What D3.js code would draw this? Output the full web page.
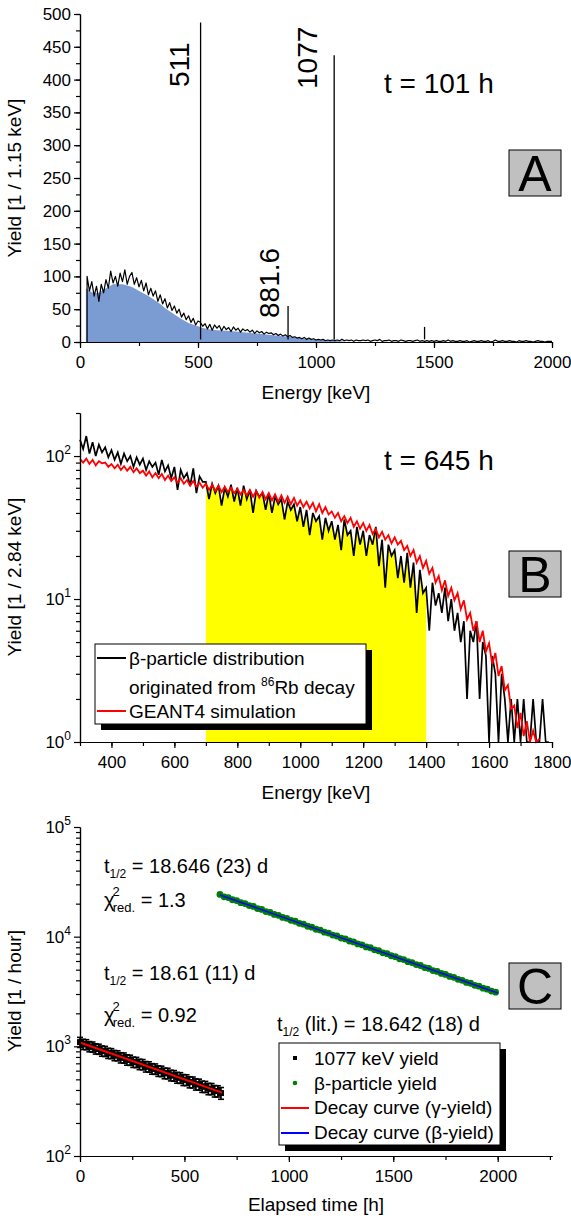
<!DOCTYPE html>
<html>
<head>
<meta charset="utf-8">
<script src="https://cdnjs.cloudflare.com/ajax/libs/d3/7.8.5/d3.min.js"></script>
<style>
  body { margin: 0; background: #fff; }
  svg { font-family: "Liberation Sans", Arial, sans-serif; }
  .axis path, .axis line { stroke: #000; stroke-width: 1.2; }
  .axis text { font-family: "Liberation Sans", Arial, sans-serif; font-size: 17px; fill: #000; }
</style>
</head>
<body>
<div class="chart"></div>
<script>
'use strict';

// ---------- panel A: gamma spectrum at t = 101 h (bins of 10 keV from 30 keV)
const specAStart = 30, specAStep = 10;
const specA = [
  100, 78, 92, 70, 85, 62, 88, 75,
  95, 82, 108, 90, 100, 85, 105, 92, 110, 88,
  100, 106, 88, 98, 84, 94, 78, 90, 72, 82,
  70, 78, 62, 72, 58, 66, 52, 60, 48, 55,
  44, 50, 38, 44, 34, 40, 30, 36, 26, 32,
  30, 24, 28, 20, 27, 18, 26, 21, 25, 17,
  24, 19, 22, 16, 23, 18, 21, 15, 20, 17,
  19, 15, 18, 13, 17, 14, 16, 12, 15, 13,
  14, 11, 13, 10, 12, 9, 11, 8, 10, 7,
  8, 6, 7, 5, 7, 4, 6, 4, 5, 3,
  4, 3, 4, 2, 3, 2, 3, 2, 3, 2,
  4, 2, 3, 2, 3, 1, 3, 2, 2, 3,
  2, 3, 1, 2, 3, 2, 4, 1, 2, 2,
  3, 1, 2, 2, 1, 3, 2, 1, 2, 2,
  1, 2, 3, 1, 2, 1, 2, 1, 2, 1,
  2, 1, 1, 2, 1, 3, 1, 2, 1, 1,
  2, 1, 1, 2, 0, 1, 2, 1, 1, 2,
  1, 1, 2, 0, 1, 3, 1, 1, 2, 1,
  1, 2, 1, 1, 0, 2, 1, 1, 2, 1,
  1, 0, 1, 2, 1, 1, 0, 1, 1, 1
];
const peaksAE = [511, 881.6, 1077, 1460];
const peaksAY = [487, 55, 437, 23];
const peakLabels = ["511", "881.6", "1077"];
const fillAE = [25, 40, 60, 80, 100, 120, 140, 160, 180, 200, 220, 240, 260, 280, 300,
  320, 340, 360, 380, 400, 430, 460, 490, 510.5, 511, 511.5, 540, 580, 620, 660, 700,
  750, 800, 850, 900, 950, 1000, 1040, 1076.5, 1077, 1077.5, 1100, 1130];
const fillAY = [82, 78, 74, 75, 80, 84, 88, 88, 88, 86, 84, 80, 76, 72, 68,
  63, 58, 52, 47, 42, 35, 29, 25, 23, 340, 22, 20, 18, 17, 16, 14.5,
  13, 11, 9, 7.5, 5.5, 3.5, 2.5, 1.5, 312, 1.5, 1, 0];

// ---------- panel B: beta spectrum at t = 645 h (bins of 10 keV from 300 keV)
const specBStart = 300, specBStep = 10;
const betaMeas = [
  130, 112, 138, 104, 125, 100, 120, 106, 115, 98,
  110, 94, 106, 88, 104, 92, 100, 84, 98, 87,
  96, 80, 92, 84, 90, 74, 94, 78, 86, 70,
  84, 58, 80, 70, 76, 62, 82, 55, 72, 66,
  66, 50, 64, 55, 62, 45, 60, 52, 63, 48,
  60, 45, 62, 50, 58, 40, 57, 52, 55, 42,
  55, 40, 52, 46, 50, 36, 48, 42, 46, 35,
  44, 32, 42, 28, 40, 35, 38, 26, 37, 30,
  35, 26, 33, 22, 36, 28, 30, 20, 32, 24,
  30, 20, 28, 24, 32, 17, 26, 12, 24, 20,
  22, 14, 20, 13, 21, 12, 18, 8, 16, 11,
  12, 6, 13, 9, 11, 8, 12, 7, 10, 6,
  8, 5, 7, 2, 6, 5, 7, 2, 5, 4,
  0.5, 4, 3, 0.5, 3, 2, 1, 2, 0.5, 2,
  1, 2, 0.5, 1, 2, 0.5, 1, 2, 1, 0.5
];
const betaSim = [
  95, 90, 96, 88, 94, 86, 92, 89, 90, 84,
  88, 82, 87, 80, 85, 79, 84, 77, 82, 76,
  79, 73, 78, 71, 76, 70, 75, 68, 73, 67,
  71, 65, 70, 64, 68, 62, 67, 61, 65, 60,
  64, 58, 63, 57, 62, 56, 61, 56, 60, 55,
  59, 54, 58, 53, 58, 52, 57, 51, 56, 50,
  55, 49, 54, 48, 53, 47, 52, 46, 51, 45,
  49, 44, 48, 43, 47, 41, 46, 40, 44, 39,
  41, 37, 40, 35, 38, 34, 37, 32, 35, 31,
  34, 30, 33, 28.5, 31, 27, 29.5, 26, 28, 24.5,
  27, 24, 25.5, 22, 23.5, 20, 22, 18, 20, 16.5,
  18.5, 15, 16.5, 13, 14.5, 11.5, 13.5, 10.5, 12, 9.8,
  11, 8.5, 9.8, 7.2, 8, 6, 7, 5, 6, 4.3,
  4.9, 3.5, 4.2, 2.9, 3.4, 2.3, 2.5, 1.7, 1.8, 1.25,
  1.6, 1.1, 1.4, 1.0, 1.2, 0.95, 1.05
];
const windowB = [700, 1400];

// ---------- panel C: yields vs elapsed time
const gammaStart = 0, gammaStep = 15;
const gammaYield = [1092, 1048, 1040, 998, 990, 952, 946, 910, 903, 868, 862, 829, 824, 790,
  786, 755, 750, 720, 716, 688, 684, 655, 652, 626, 623, 598, 594, 570, 568, 545, 541, 520,
  517, 496, 494, 473, 471, 452, 450, 431, 429, 411, 410, 392, 391, 375];
const gammaErr = [115, 112, 110, 107, 105, 102, 100, 98, 96, 93, 91, 89, 87, 85, 84, 82, 80,
  78, 77, 75, 74, 72, 71, 69, 68, 66, 65, 64, 63, 61, 60, 59, 58, 57, 56, 55, 54, 53, 52,
  51, 50, 49, 48, 47, 46, 46];
const betaStart = 670, betaStep = 20;
const betaYield = [24300, 23100, 22700, 21700, 21350, 20400, 20050, 19200, 18850, 18050,
  17700, 16950, 16650, 15950, 15650, 14980, 14700, 14080, 13820, 13230, 13000, 12440,
  12210, 11690, 11480, 10990, 10790, 10330, 10140, 9710, 9530, 9130, 8960, 8580, 8420,
  8060, 7920, 7580, 7440, 7120, 6990, 6700, 6570, 6290, 6180, 5910, 5810, 5560, 5460,
  5230, 5130, 4910, 4820, 4620, 4530, 4340, 4260, 4080, 4000, 3830, 3760, 3600, 3540,
  3390, 3320, 3190, 3120];
const fitGammaT = [0, 680], fitGammaY = [1085, 378];
const fitBetaT = [670, 2000], fitBetaY = [24000, 3060];

// ---------- canvas
const W = 571, H = 1219;
const svg = d3.select(".chart").append("svg").attr("width", W).attr("height", H);

const xA = d3.scaleLinear().domain([0, 2000]).range([80, 552]);
const yA = d3.scaleLinear().domain([0, 500]).range([342, 14]);
const xB = d3.scaleLinear().domain([300, 1800]).range([80, 552]);
const yB = d3.scaleLog().domain([1, 200]).range([742, 413]).clamp(true);
const xC = d3.scaleLinear().domain([0, 2260]).range([80, 552]);
const yC = d3.scaleLog().domain([100, 1e5]).range([1156, 827]);

function axis(fn, scale, pos, vertical, values, size, fmt) {
  return svg.append("g").attr("class", "axis")
    .attr("transform", vertical ? `translate(${pos},0)` : `translate(0,${pos})`)
    .call(fn(scale).tickValues(values).tickSize(size).tickSizeOuter(0)
      .tickPadding(vertical ? 3 : 8).tickFormat(fmt || ""));
}

function logLabels(scale, x, exps) {
  exps.forEach(e => {
    const t = svg.append("text").attr("x", x).attr("y", scale(Math.pow(10, e)) + 6)
      .attr("text-anchor", "end").attr("font-size", 17);
    t.append("tspan").text("10");
    t.append("tspan").attr("font-size", 12).attr("dy", -8).text(e);
  });
}

const logMinor = (lo, hi) => {
  const v = [];
  for (let d = lo; d < hi; d *= 10) for (let k = 2; k <= 9; k++) if (d * k <= hi) v.push(d * k);
  return v;
};

function letterBox(x, y, letter) {
  svg.append("rect").attr("x", x).attr("y", y).attr("width", 52).attr("height", 46)
    .attr("fill", "#c0c0c0").attr("stroke", "#000").attr("stroke-width", 1);
  svg.append("text").attr("x", x + 26).attr("y", y + 41).attr("text-anchor", "middle")
    .attr("font-size", 50).text(letter);
}

function yTitle(cy, label) {
  svg.append("text").attr("transform", `translate(21,${cy}) rotate(-90)`)
    .attr("text-anchor", "middle").attr("font-size", 19).text(label);
}
function xTitle(y, label) {
  svg.append("text").attr("x", 316).attr("y", y).attr("text-anchor", "middle")
    .attr("font-size", 19).text(label);
}

// ================= A
const contA = specA.map((v, i) => [specAStart + i * specAStep, v]);
svg.append("path")
  .datum(fillAE.map((e, i) => [e, fillAY[i]]))
  .attr("fill", "#7b9bd3")
  .attr("d", d3.area().x(d => xA(d[0])).y0(yA(0)).y1(d => yA(d[1])));
svg.append("path")
  .datum([[specAStart, 0]].concat(contA))
  .attr("fill", "none").attr("stroke", "#000").attr("stroke-width", 1.2)
  .attr("stroke-linejoin", "round")
  .attr("d", d3.line().x(d => xA(d[0])).y(d => yA(d[1])));
svg.selectAll(".peakA").data(peaksAE).enter().append("line")
  .attr("x1", d => xA(d)).attr("x2", d => xA(d))
  .attr("y1", yA(4)).attr("y2", (d, i) => yA(peaksAY[i]))
  .attr("stroke", "#000").attr("stroke-width", 1.3);

axis(d3.axisLeft, yA, 80, true, d3.range(0, 501, 25), 4);
axis(d3.axisLeft, yA, 80, true, d3.range(0, 501, 50), 6, d3.format("d"));
axis(d3.axisBottom, xA, 342, false, d3.range(0, 2001, 250), 4);
axis(d3.axisBottom, xA, 342, false, d3.range(0, 2001, 500), 6, d3.format("d"));
yTitle(178, "Yield [1 / 1.15 keV]");
xTitle(399, "Energy [keV]");

// peak labels, rotated
const labPos = [[189, 87], [279, 318], [317, 89]];
peakLabels.forEach((l, i) => {
  svg.append("text").attr("transform", `translate(${labPos[i][0]},${labPos[i][1]}) rotate(-90)`)
    .attr("font-size", 28).text(l);
});
svg.append("text").attr("x", 384).attr("y", 93).attr("font-size", 28).text("t = 101 h");
letterBox(509, 150, "A");

// ================= B
const measB = betaMeas.map((v, i) => [specBStart + i * specBStep, v]);
const simB = betaSim.map((v, i) => [specBStart + i * specBStep, v]);
const win = measB.filter(d => d[0] >= windowB[0] && d[0] <= windowB[1]);
svg.append("path")
  .datum(win)
  .attr("fill", "#ffff00")
  .attr("d", d3.area().x(d => xB(d[0])).y0(yB(1)).y1(d => yB(d[1])));
svg.append("path").datum(measB)
  .attr("fill", "none").attr("stroke", "#000").attr("stroke-width", 1.7)
  .attr("d", d3.line().x(d => xB(d[0])).y(d => yB(d[1])));
svg.append("path").datum(simB)
  .attr("fill", "none").attr("stroke", "#ff0000").attr("stroke-width", 1.8)
  .attr("d", d3.line().x(d => xB(d[0])).y(d => yB(d[1])));

axis(d3.axisLeft, yB, 80, true, logMinor(1, 200), 4);
axis(d3.axisLeft, yB, 80, true, [1, 10, 100], 6);
logLabels(yB, 71, [0, 1, 2]);
axis(d3.axisBottom, xB, 742, false, d3.range(300, 1801, 100), 4);
axis(d3.axisBottom, xB, 742, false, d3.range(400, 1801, 200), 6, d3.format("d"));
yTitle(577, "Yield [1 / 2.84 keV]");
xTitle(799, "Energy [keV]");
svg.append("text").attr("x", 384).attr("y", 470).attr("font-size", 28).text("t = 645 h");
letterBox(509, 551, "B");

// legend B
svg.append("rect").attr("x", 101).attr("y", 650).attr("width", 271).attr("height", 80).attr("fill", "#000");
svg.append("rect").attr("x", 95).attr("y", 644).attr("width", 271).attr("height", 80)
  .attr("fill", "#fff").attr("stroke", "#000").attr("stroke-width", 1);
svg.append("line").attr("x1", 97).attr("x2", 126).attr("y1", 658).attr("y2", 658)
  .attr("stroke", "#000").attr("stroke-width", 2);
svg.append("line").attr("x1", 97).attr("x2", 126).attr("y1", 711).attr("y2", 711)
  .attr("stroke", "#ff0000").attr("stroke-width", 2);
svg.append("text").attr("x", 129).attr("y", 665).attr("font-size", 19).text("β-particle distribution");
const rb = svg.append("text").attr("x", 129).attr("y", 694).attr("font-size", 19);
rb.append("tspan").text("originated from ");
rb.append("tspan").attr("font-size", 12).attr("dy", -8).text("86");
rb.append("tspan").attr("dy", 8).text("Rb decay");
svg.append("text").attr("x", 129).attr("y", 718).attr("font-size", 19).text("GEANT4 simulation");

// ================= C
const gam = gammaYield.map((v, i) => ({t: gammaStart + i * gammaStep, y: v, e: gammaErr[i]}));
const bet = betaYield.map((v, i) => [betaStart + i * betaStep, v]);

const eb = svg.append("g").attr("stroke", "#000").attr("stroke-width", 1.6);
eb.selectAll("line.v").data(gam).enter().append("line")
  .attr("x1", d => xC(d.t)).attr("x2", d => xC(d.t))
  .attr("y1", d => yC(d.y - d.e)).attr("y2", d => yC(d.y + d.e));
eb.selectAll("line.lo").data(gam).enter().append("line")
  .attr("x1", d => xC(d.t) - 3).attr("x2", d => xC(d.t) + 3)
  .attr("y1", d => yC(d.y - d.e)).attr("y2", d => yC(d.y - d.e));
eb.selectAll("line.hi").data(gam).enter().append("line")
  .attr("x1", d => xC(d.t) - 3).attr("x2", d => xC(d.t) + 3)
  .attr("y1", d => yC(d.y + d.e)).attr("y2", d => yC(d.y + d.e));
svg.selectAll(".sq").data(gam).enter().append("rect")
  .attr("x", d => xC(d.t) - 3).attr("y", d => yC(d.y) - 3)
  .attr("width", 6).attr("height", 6).attr("fill", "#000");

svg.selectAll(".dot").data(bet).enter().append("circle")
  .attr("cx", d => xC(d[0])).attr("cy", d => yC(d[1])).attr("r", 3.4)
  .attr("fill", "#008000");

const fitLine = d3.line().x(d => xC(d[0])).y(d => yC(d[1]));
svg.append("path").datum(fitGammaT.map((t, i) => [t, fitGammaY[i]]))
  .attr("fill", "none").attr("stroke", "#ff0000").attr("stroke-width", 2).attr("d", fitLine);
svg.append("path").datum(fitBetaT.map((t, i) => [t, fitBetaY[i]]))
  .attr("fill", "none").attr("stroke", "#0000ff").attr("stroke-width", 1.6).attr("d", fitLine);

axis(d3.axisLeft, yC, 80, true, logMinor(100, 1e5), 4);
axis(d3.axisLeft, yC, 80, true, [1e2, 1e3, 1e4, 1e5], 6);
logLabels(yC, 71, [2, 3, 4, 5]);
axis(d3.axisBottom, xC, 1156, false, d3.range(0, 2251, 250), 4);
axis(d3.axisBottom, xC, 1156, false, d3.range(0, 2001, 500), 6, d3.format("d"));
yTitle(991, "Yield [1 / hour]");
xTitle(1211, "Elapsed time [h]");
letterBox(509, 963, "C");

function halfLife(x, y, mid, rest) {
  const t = svg.append("text").attr("x", x).attr("y", y).attr("font-size", 20);
  t.append("tspan").text("t");
  t.append("tspan").attr("font-size", 12).attr("dy", 5).text("1/2");
  t.append("tspan").attr("dy", -5).text(mid + rest);
}
function chi(x, y, val) {
  const t = svg.append("text").attr("x", x).attr("y", y).attr("font-size", 20);
  t.append("tspan").text("χ");
  t.append("tspan").attr("font-size", 13).attr("dx", -2).attr("dy", -11).text("2");
  t.append("tspan").attr("font-size", 13).attr("dx", -7).attr("dy", 16).text("red.");
  t.append("tspan").attr("dy", -5).text(" = " + val);
}
halfLife(104, 873, "", " = 18.646 (23) d");
chi(104, 907, "1.3");
halfLife(104, 980, "", " = 18.61 (11) d");
chi(104, 1022, "0.92");
halfLife(277, 1031, " (lit.)", " = 18.642 (18) d");

// legend C
svg.append("rect").attr("x", 285).attr("y", 1049).attr("width", 221).attr("height", 102).attr("fill", "#000");
svg.append("rect").attr("x", 279).attr("y", 1043).attr("width", 221).attr("height", 102)
  .attr("fill", "#fff").attr("stroke", "#000").attr("stroke-width", 1);
svg.append("rect").attr("x", 293).attr("y", 1056).attr("width", 4).attr("height", 4).attr("fill", "#000");
svg.append("circle").attr("cx", 295).attr("cy", 1083).attr("r", 2.3).attr("fill", "#008000");
svg.append("line").attr("x1", 281).attr("x2", 309).attr("y1", 1108).attr("y2", 1108)
  .attr("stroke", "#ff0000").attr("stroke-width", 2);
svg.append("line").attr("x1", 281).attr("x2", 309).attr("y1", 1133).attr("y2", 1133)
  .attr("stroke", "#0000ff").attr("stroke-width", 2);
["1077 keV yield", "β-particle yield", "Decay curve (γ-yield)", "Decay curve (β-yield)"]
  .forEach((s, i) => {
    svg.append("text").attr("x", 314).attr("y", 1065 + i * 24.7).attr("font-size", 19).text(s);
  });
</script>
</body>
</html>
